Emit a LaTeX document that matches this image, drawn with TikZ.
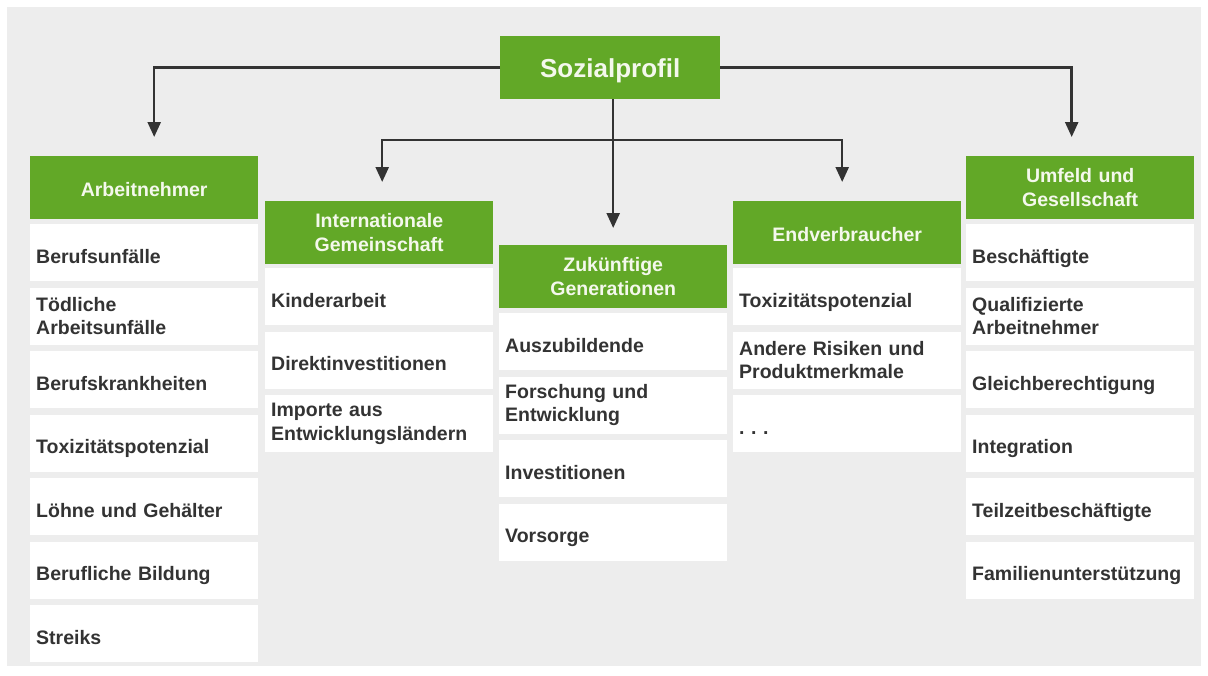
\documentclass[tikz,border=0pt]{standalone}
\usepackage{fontspec}
\setmainfont{Liberation Sans}
\usetikzlibrary{arrows.meta}
\definecolor{bggray}{HTML}{EDEDED}
\definecolor{hgreen}{HTML}{62A827}
\definecolor{htxt}{HTML}{F4F8EC}
\definecolor{itemtxt}{HTML}{333333}
\definecolor{linec}{HTML}{333333}
\begin{document}
\begin{tikzpicture}[x=1pt,y=-1pt,
  hdr/.style={fill=hgreen, text=htxt, font=\bfseries\fontsize{19.5}{23.5}\selectfont,
    align=center, text width=220pt, inner xsep=4pt, inner ysep=0pt,
    minimum height=63pt, anchor=north west},
  itm/.style={fill=white, text=itemtxt, font=\bfseries\fontsize{19.5}{23.5}\selectfont,
    align=left, text width=216pt, inner xsep=6pt, inner ysep=0pt,
    minimum height=57pt, anchor=north west},
  one/.style={text height=21pt, text depth=0pt},
  hone/.style={text height=17pt, text depth=0pt},
  conn/.style={draw=linec, line width=2.5pt, -{Triangle[width=13pt,length=15pt]}}
]
\useasboundingbox (0,0) rectangle (1208,675);
\fill[white] (0,0) rectangle (1208,675);
\fill[bggray] (7,7) rectangle (1201,666);

% root
\node[hdr, text width=212pt, text height=19pt, text depth=0pt,
  font=\bfseries\fontsize{26}{30}\selectfont] (soz) at (500,36) {Sozialprofil};

% column 1
\node[hdr, hone] (h1) at (30,156) {Arbeitnehmer};
\node[itm, one] (a1) at (30,224) {Berufsunfälle};
\node[itm] (a2) at (30,287.5) {Tödliche\\Arbeitsunfälle};
\node[itm, one] (a3) at (30,351) {Berufskrankheiten};
\node[itm, one] (a4) at (30,414.5) {Toxizitätspotenzial};
\node[itm, one] (a5) at (30,478) {Löhne und Gehälter};
\node[itm, one] (a6) at (30,541.5) {Berufliche Bildung};
\node[itm, one] (a7) at (30,605) {Streiks};

% column 2
\node[hdr] (h2) at (265,201) {Internationale\\Gemeinschaft};
\node[itm, one] (b1) at (265,268) {Kinderarbeit};
\node[itm, one] (b2) at (265,331.5) {Direktinvestitionen};
\node[itm] (b3) at (265,395) {Importe aus\\Entwicklungsländern};

% column 3
\node[hdr] (h3) at (499,245) {Zukünftige\\Generationen};
\node[itm, one] (c1) at (499,313) {Auszubildende};
\node[itm] (c2) at (499,376.5) {Forschung und\\Entwicklung};
\node[itm, one] (c3) at (499,440) {Investitionen};
\node[itm, one] (c4) at (499,503.5) {Vorsorge};

% column 4
\node[hdr, hone] (h4) at (733,201) {Endverbraucher};
\node[itm, one] (d1) at (733,268) {Toxizitätspotenzial};
\node[itm] (d2) at (733,331.5) {Andere Risiken und\\Produktmerkmale};
\node[itm, one] (d3) at (733,395) {.\ .\ .};

% column 5
\node[hdr] (h5) at (966,156) {Umfeld und\\Gesellschaft};
\node[itm, one] (e1) at (966,224) {Beschäftigte};
\node[itm] (e2) at (966,287.5) {Qualifizierte\\Arbeitnehmer};
\node[itm, one] (e3) at (966,351) {Gleichberechtigung};
\node[itm, one] (e4) at (966,414.5) {Integration};
\node[itm, one] (e5) at (966,478) {Teilzeitbeschäftigte};
\node[itm, one] (e6) at (966,541.5) {Familienunterstützung};

% connectors
\draw[conn, shorten >=19pt] (soz.west) -| ([xshift=10pt]h1.north);
\draw[conn, shorten >=19pt] (soz.east) -| ([xshift=-8.5pt]h5.north);
\coordinate (split) at (612,140);
\draw[conn, shorten >=17pt] (h3.north |- soz.south) -- (h3.north);
\draw[conn, shorten >=19pt] (split) -| ([xshift=3pt]h2.north);
\draw[conn, shorten >=19pt] (split) -| ([xshift=-5pt]h4.north);
\end{tikzpicture}
\end{document}
